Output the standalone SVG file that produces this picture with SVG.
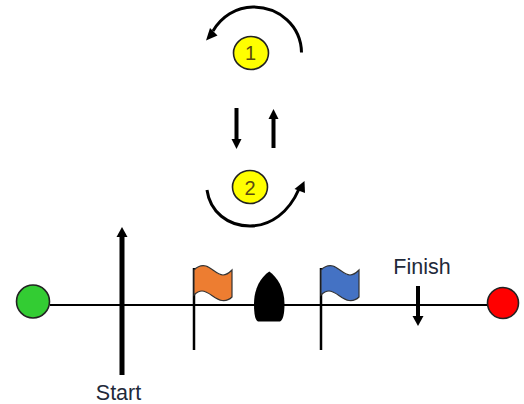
<svg xmlns="http://www.w3.org/2000/svg" width="524" height="404" viewBox="0 0 524 404">
<defs>
<style>
.t{font-family:"Liberation Sans",Arial,sans-serif;fill:#1f2a3a;font-size:21.5px;text-anchor:middle}
.n{font-family:"Liberation Sans",Arial,sans-serif;font-size:20px;fill:#5a4a10;text-anchor:middle}
.c{fill:none;stroke:#000;stroke-linecap:butt}
.h{fill:#000;stroke:none}
.o{stroke:#222;stroke-width:1.6}
.f{stroke:#333;stroke-width:1.2}
</style>
</defs>
<rect width="524" height="404" fill="#fff"/>
<g id="connectors">
<line class="c" x1="50" y1="305" x2="490" y2="305" stroke-width="2"/>
<path class="c" d="M301.500 52.500C301 26 279.500 7 253 7C236 7 221 17 213 31" stroke-width="3"/>
<polygon class="h" points="206,40.500 210,28 217.500,35.500"/>
<path class="c" d="M207 190C210 212 228 226 250 226C271 226 289 212 299 189" stroke-width="3"/>
<polygon class="h" points="304.500,181 305,193 294.500,189"/>
<line class="c" x1="236.500" y1="108" x2="236.500" y2="140" stroke-width="4"/>
<polygon class="h" points="231.500,139 241.500,139 236.500,149"/>
<line class="c" x1="273.500" y1="148" x2="273.500" y2="118" stroke-width="4"/>
<polygon class="h" points="268.500,119 278.500,119 273.500,109"/>
<line class="c" x1="122" y1="375" x2="122" y2="236" stroke-width="5"/>
<polygon class="h" points="116.500,237 127.500,237 122,227"/>
<line class="c" x1="418" y1="286" x2="418" y2="317" stroke-width="4"/>
<polygon class="h" points="412.500,316 423.500,316 418,326"/>
</g>
<g id="node-1"><ellipse class="o" cx="251" cy="53" rx="17.500" ry="16.500" fill="#ff0"/><text class="n" x="250.500" y="59.500">1</text></g>
<g id="node-2"><ellipse class="o" cx="250" cy="187" rx="17.500" ry="16.500" fill="#ff0"/><text class="n" x="250" y="195">2</text></g>
<g id="start-buoy"><circle class="o" cx="33" cy="301.500" r="16.500" fill="#33cc33"/></g>
<g id="finish-buoy"><circle class="o" cx="503" cy="303" r="15.500" fill="#f00"/></g>
<g id="orange-flag">
<line class="c" x1="194" y1="268" x2="194" y2="350" stroke-width="2.500"/>
<path class="f" fill="#ed7d31" d="M194 270C198 266 202 265 206 266C212 268 217 275 223 275C227 275 230 272 232 270V297C229 300 226 301 222 300.500C215 300 209 291 202 291C199 291 196 293 194 295Z"/>
</g>
<g id="boat"><path class="h" d="M269.300 271.500C261 277 254 288 254 304C254 314 255 320 258 321.500H280C283 320 284.500 314 284.500 304C284.500 288 277 277 269.300 271.500Z"/></g>
<g id="blue-flag">
<line class="c" x1="321" y1="268" x2="321" y2="350" stroke-width="2.500"/>
<path class="f" fill="#4472c4" d="M321 270C325 266 329 265 333 266C339 268 344 275 350 275C354 275 357 272 359 270V297C356 300 353 301 349 300.500C342 300 336 291 329 291C326 291 323 293 321 295Z"/>
</g>
<g id="start-label"><text class="t" x="118.500" y="400">Start</text></g>
<g id="finish-label"><text class="t" x="422" y="274">Finish</text></g>
</svg>
